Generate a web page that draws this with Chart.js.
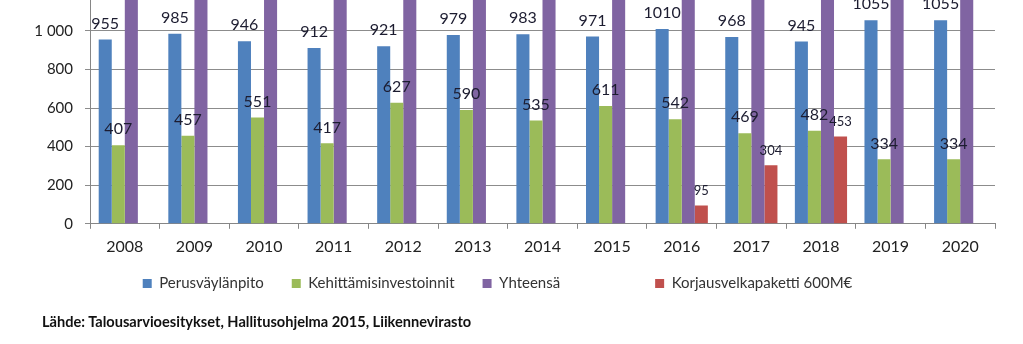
<!DOCTYPE html>
<html>
<head>
<meta charset="utf-8">
<script src="https://cdn.jsdelivr.net/npm/chart.js@4.4.1/dist/chart.umd.min.js"></script>
<style>
  html, body { margin: 0; padding: 0; background: #fff; overflow: hidden; }
  body { width: 1023px; height: 344px; position: relative; }
  #wrap { position: absolute; left: 0; top: -183px; width: 1023px; height: 508px; }
  #source {
    position: absolute; left: 42px; top: 313px;
    font-family: Lato, sans-serif; font-weight: bold; font-size: 14.6px; color: #111;
  }
</style>
</head>
<body>
<div id="wrap"><canvas id="myChart"></canvas></div>
<div id="source">Lähde: Talousarvioesitykset, Hallitusohjelma 2015, Liikennevirasto</div>
<script>
// Years on the x axis
const years = ["2008", "2009", "2010", "2011", "2012", "2013", "2014", "2015", "2016", "2017", "2018", "2019", "2020"];

// Basic maintenance (M€)
const perusvaylanpito = [955, 985, 946, 912, 921, 979, 983, 971, 1010, 968, 945, 1055, 1055];

// Development investments (M€)
const kehittamisinvestoinnit = [407, 457, 551, 417, 627, 590, 535, 611, 542, 469, 482, 334, 334];

// Repair debt package, only 2016-2018
const korjausvelkapaketti = [null, null, null, null, null, null, null, null, 95, 304, 453, null, null];

// Total of the three above
const yhteensa = perusvaylanpito.map((v, i) => v + kehittamisinvestoinnit[i] + (korjausvelkapaketti[i] || 0));

const seriesNames = ["Perusväylänpito", "Kehittämisinvestoinnit", "Yhteensä", "Korjausvelkapaketti 600M€"];

// Number labels above each bar
const valueLabels = {
  id: "valueLabels",
  afterDatasetsDraw(chart) {
    const ctx = chart.ctx;
    ctx.save();
    ctx.textAlign = "center";
    ctx.textBaseline = "bottom";
    ctx.fillStyle = "#1c1c30";
    chart.data.datasets.forEach((ds, di) => {
      const meta = chart.getDatasetMeta(di);
      ctx.font = di === 3 ? "13px Lato" : "16px Lato";
      meta.data.forEach((bar, i) => {
        const v = ds.data[i];
        if (v == null) return;
        ctx.fillText(String(v), bar.x, bar.y - 8);
      });
    });
    ctx.restore();
  },
};

// pull the legend row a bit closer to the x axis labels
const legendShift = {
  id: "legendShift",
  afterLayout(chart) {
    const legend = chart.legend;
    if (!legend) return;
    legend.top -= 16;
    legend.bottom -= 16;
  },
};

const ctx = document.getElementById("myChart").getContext("2d");

const data = {
  labels: years,
  datasets: [
    { label: seriesNames[0], data: perusvaylanpito, backgroundColor: "#4F81BD" },
    { label: seriesNames[1], data: kehittamisinvestoinnit, backgroundColor: "#9BBB59" },
    { label: seriesNames[2], data: yhteensa, backgroundColor: "#8064A2" },
    { label: seriesNames[3], data: korjausvelkapaketti, backgroundColor: "#C0504D" },
  ],
};

// legend entries, with an empty gap before the last one
function legendItems(chart) {
  const items = Chart.defaults.plugins.legend.labels.generateLabels(chart);
  items.splice(3, 0, {
    text: "\u2003\u2003",
    fillStyle: "rgba(0,0,0,0)",
    strokeStyle: "rgba(0,0,0,0)",
    lineWidth: 0,
    hidden: false,
    datasetIndex: -1,
  });
  return items;
}

const config = {
  type: "bar",
  data: data,
  options: {
    responsive: true,
    maintainAspectRatio: false,
    animation: false,
    categoryPercentage: 0.75,
    barPercentage: 1.0,
    layout: { padding: { left: 0, right: 28, top: 0, bottom: 8 } },
    plugins: {
      tooltip: { enabled: false },
      legend: {
        position: "bottom",
        labels: {
          boxWidth: 9,
          boxHeight: 9,
          padding: 28,
          color: "#333",
          font: { family: "Lato", size: 15 },
          generateLabels: legendItems,
        },
      },
    },
    scales: {
      x: {
        grid: {
          drawOnChartArea: false,
          drawTicks: true,
          tickLength: 5,
          color: "#868686",
        },
        border: { color: "#868686" },
        ticks: { color: "#222", padding: 8, font: { family: "Lato", size: 16 } },
      },
      y: {
        min: 0,
        max: 2000,
        afterFit(scale) { scale.width = 90; },
        grid: { color: "#8c8c8c", tickLength: 5 },
        border: { color: "#868686" },
        ticks: {
          stepSize: 200,
          color: "#222",
          padding: 12,
          font: { family: "Lato", size: 15 },
          callback: (v) => (v >= 1000 ? "1 " + String(v % 1000).padStart(3, "0") : String(v)),
        },
      },
    },
  },
  plugins: [valueLabels, legendShift],
};

const myChart = new Chart(ctx, config);
</script>
</body>
</html>
